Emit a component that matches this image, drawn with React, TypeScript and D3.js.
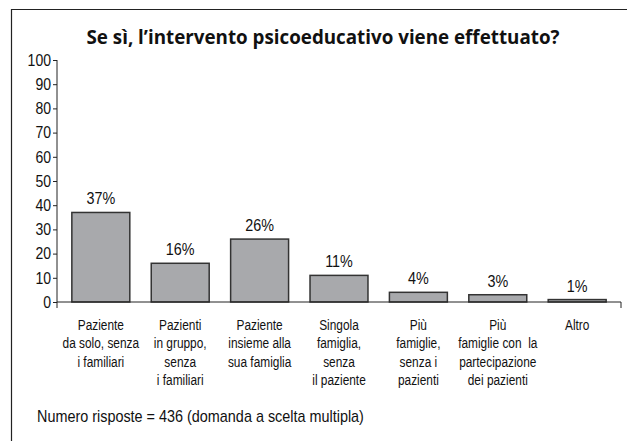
import React, { useEffect, useRef } from "react";
import * as d3 from "d3";

const categories = [
  ["Paziente", "da solo, senza", "i familiari"],
  ["Pazienti", "in gruppo,", "senza", "i familiari"],
  ["Paziente", "insieme alla", "sua famiglia"],
  ["Singola", "famiglia,", "senza", "il paziente"],
  ["Più", "famiglie,", "senza i", "pazienti"],
  ["Più", "famiglie con  la", "partecipazione", "dei pazienti"],
  ["Altro"],
];
const values = [37, 16, 26, 11, 4, 3, 1];
const yTicks = [0, 10, 20, 30, 40, 50, 60, 70, 80, 90, 100];
const title = "Se sì, l\u2019intervento psicoeducativo viene effettuato?";
const note = "Numero risposte = 436 (domanda a scelta multipla)";

// narrow look: Liberation Sans squeezed horizontally
const narrow = "'Liberation Sans', Arial, sans-serif";

export default function App() {
  const svgRef = useRef<SVGSVGElement>(null);

  useEffect(() => {
    const width = 627;
    const height = 441;
    const left = 57;
    const right = 621;
    const bottom = 302;
    const top = 60;

    const svg = d3.select(svgRef.current);
    svg.selectAll("*").remove();

    // frame (right and bottom edges run off the picture)
    svg
      .append("path")
      .attr("d", `M11.5,${height + 5}V9.5H${width + 5}`)
      .attr("fill", "none")
      .attr("stroke", "#222")
      .attr("stroke-width", 1.2);

    svg
      .append("text")
      .attr("x", 323)
      .attr("y", 44)
      .attr("text-anchor", "middle")
      .style("font-family", "'Open Sans', 'Liberation Sans', sans-serif")
      .style("font-weight", "bold")
      .style("font-size", "18.8px")
      .attr("fill", "#111")
      .text(title);

    const xScale = d3
      .scaleBand()
      .domain(d3.range(values.length).map(String))
      .range([left, right])
      .paddingInner(0.27)
      .paddingOuter(0.187);

    const yScale = d3.scaleLinear().domain([0, 100]).range([bottom, top]);

    // y axis
    const yAxis = svg
      .append("g")
      .attr("transform", `translate(${left},0)`)
      .call(
        d3
          .axisLeft(yScale)
          .tickValues(yTicks)
          .tickSize(4)
          .tickSizeOuter(0)
      );
    yAxis.select(".domain").attr("d", `M0,${top}V${bottom + 6}`).attr("stroke", "#222");
    yAxis.selectAll("line").attr("stroke", "#222");
    yAxis
      .selectAll("text")
      .style("font-family", narrow)
      .style("font-size", "16.5px")
      .attr("fill", "#111")
      .attr("x", -6 / 0.85)
      .attr("transform", "scale(0.85,1)");

    // bars
    svg
      .append("g")
      .selectAll("rect")
      .data(values)
      .join("rect")
      .attr("x", (d, i) => xScale(String(i))!)
      .attr("width", xScale.bandwidth())
      .attr("y", (d) => yScale(d))
      .attr("height", (d) => yScale(0) - yScale(d))
      .attr("fill", "#a8a9ac")
      .attr("stroke", "#333")
      .attr("stroke-width", 1.5);

    svg
      .append("g")
      .selectAll("text")
      .data(values)
      .join("text")
      .attr(
        "transform",
        (d, i) => `translate(${xScale(String(i))! + xScale.bandwidth() / 2},${yScale(d) - 8}) scale(0.87,1)`
      )
      .attr("text-anchor", "middle")
      .style("font-family", narrow)
      .style("font-size", "16.5px")
      .attr("fill", "#111")
      .text((d) => `${d}%`);

    // x axis
    svg
      .append("path")
      .attr("d", `M${left},${bottom}H${right}V${bottom + 6}`)
      .attr("fill", "none")
      .attr("stroke", "#222");

    const labels = svg
      .append("g")
      .selectAll("text")
      .data(categories)
      .join("text")
      .attr("text-anchor", "middle")
      .style("font-family", narrow)
      .style("font-size", "14.5px")
      .attr("fill", "#111")
      .attr(
        "transform",
        (d, i) => `translate(${xScale(String(i))! + xScale.bandwidth() / 2},330) scale(0.82,1)`
      );

    labels
      .selectAll("tspan")
      .data((d) => d)
      .join("tspan")
      .attr("x", 0)
      .attr("y", (d, j) => j * 18.3)
      .style("white-space", "pre")
      .text((d) => d);

    svg
      .append("text")
      .attr("transform", "translate(37,422) scale(0.9,1)")
      .style("font-family", narrow)
      .style("font-size", "16px")
      .attr("fill", "#111")
      .text(note);
  }, []);

  return (
    <svg
      ref={svgRef}
      width={627}
      height={441}
      style={{ position: "absolute", left: 0, top: 0, background: "#fff" }}
    ></svg>
  );
}
